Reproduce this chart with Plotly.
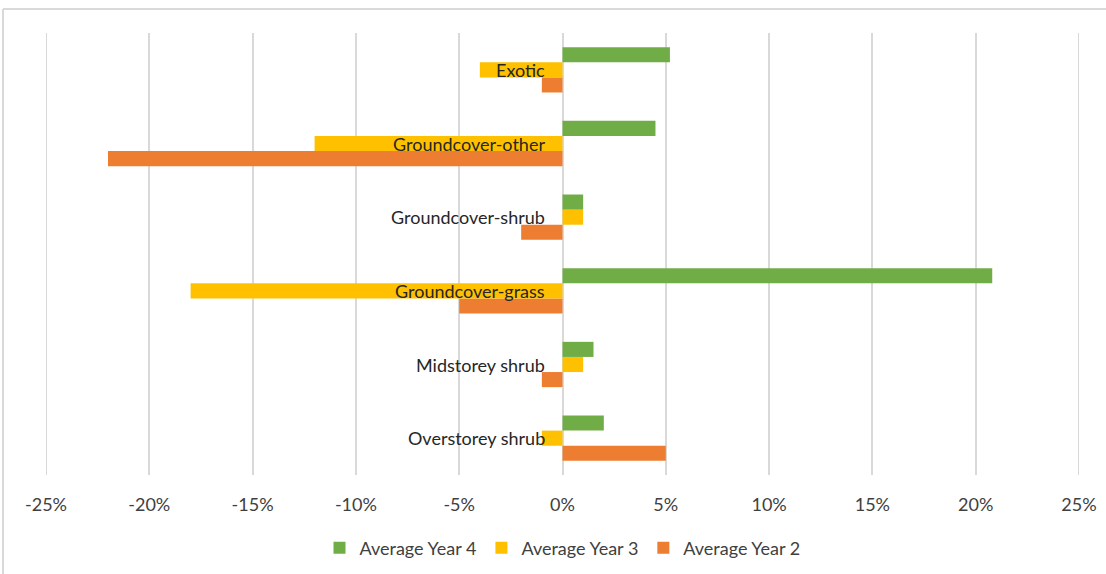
import plotly.graph_objects as go

# Categories listed bottom-to-top (Plotly's categorical y axis starts at the bottom)
categories = [
    "Overstorey shrub",
    "Midstorey shrub",
    "Groundcover-grass",
    "Groundcover-shrub",
    "Groundcover-other",
    "Exotic",
]

# Percentage change per category
year2 = [5.0, -1.0, -5.0, -2.0, -22.0, -1.0]
year3 = [-1.0, 1.0, -18.0, 1.0, -12.0, -4.0]
year4 = [2.0, 1.5, 20.8, 1.0, 4.5, 5.2]

x_ticks = [-25, -20, -15, -10, -5, 0, 5, 10, 15, 20, 25]
x_tick_labels = [f"{t}%" for t in x_ticks]

FONT = "Lato"
FS = 18
W, H = 1106, 574
ML, MR, MT, MB = 46, 27, 33, 99
GRID = "#D9D9D9"

fig = go.Figure()
# Added bottom-to-top within each group so Year 4 sits on top
for name, vals, color in [
    ("Average Year 2", year2, "#ED7D31"),
    ("Average Year 3", year3, "#FFC000"),
    ("Average Year 4", year4, "#70AD47"),
]:
    fig.add_trace(go.Bar(
        y=categories, x=vals, name=name, orientation="h",
        marker=dict(color=color, line=dict(width=0)),
        hoverinfo="x+name",
    ))

# Category labels sit beside the zero line
for cat in categories:
    fig.add_annotation(
        x=0, y=cat, xref="x", yref="y", text=cat, showarrow=False,
        xanchor="right", yanchor="middle", xshift=-16,
        font=dict(family=FONT, size=FS, color="#262626"),
    )

# Gridlines at the two ends of the axis range
for t in (x_ticks[0], x_ticks[-1]):
    fig.add_shape(
        type="line", xref="x", yref="paper", x0=t, x1=t, y0=0, y1=1,
        line=dict(color=GRID, width=2), layer="below",
    )

# Light chart-area frame: top and left edges
pw, ph = W - ML - MR, H - MT - MB
fx0 = (3 - ML) / pw
fx1 = (W + 40 - ML) / pw
fy_top = 1 - (9 - MT) / ph
fy_bot = 1 - (H + 40 - MT) / ph
fig.add_shape(type="line", xref="paper", yref="paper", layer="below",
              x0=fx0, x1=fx1, y0=fy_top, y1=fy_top,
              line=dict(color=GRID, width=2))
fig.add_shape(type="line", xref="paper", yref="paper", layer="below",
              x0=fx0, x1=fx0, y0=fy_bot, y1=fy_top,
              line=dict(color=GRID, width=2))

fig.update_layout(
    width=W, height=H,
    margin=dict(l=ML, r=MR, t=MT, b=MB, autoexpand=False),
    paper_bgcolor="white", plot_bgcolor="white",
    barmode="group", bargap=0.385, bargroupgap=0,
    font=dict(family=FONT, size=FS, color="#404040"),
    showlegend=True,
    legend=dict(
        orientation="h", traceorder="reversed",
        x=0.5, xanchor="center", y=-(548 - 475) / ph, yanchor="middle",
        font=dict(family=FONT, size=FS, color="#404040"),
        itemwidth=30, tracegroupgap=0,
    ),
    xaxis=dict(
        range=[-25, 25], tickvals=x_ticks, ticktext=x_tick_labels,
        showgrid=True, gridcolor=GRID, gridwidth=2,
        zeroline=True, zerolinecolor=GRID, zerolinewidth=2,
        showline=False, ticks="", ticklabelstandoff=17,
        tickfont=dict(family=FONT, size=FS, color="#404040"),
        automargin=False, fixedrange=True,
    ),
    yaxis=dict(
        showticklabels=False, showgrid=False, zeroline=False,
        showline=False, ticks="", automargin=False, fixedrange=True,
    ),
)

fig.write_html("out.html")
